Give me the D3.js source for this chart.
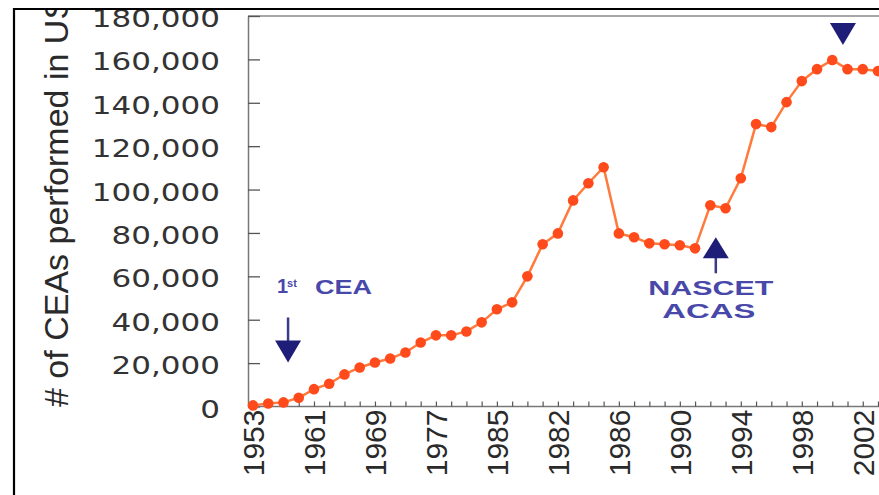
<!DOCTYPE html>
<html>
<head>
<meta charset="utf-8">
<script src="https://cdn.jsdelivr.net/npm/d3@7"></script>
<style>
  body { margin: 0; background: #fff; }
  svg { display: block; }
</style>
</head>
<body>
<div id="chart"></div>
<script>
// CEAs performed per tick position
const ceaCounts = [500, 1400, 1900, 4000, 8000, 10500, 14800, 18000, 20300, 22100,
    24900, 29500, 32800, 32800, 34600, 38800, 44800, 48000, 60000, 74800,
    79800, 95000, 102900, 110300, 79800, 78000, 75200, 74800, 74300, 72900,
    92800, 91400, 105200, 130200, 128800, 140300, 150000, 155500, 159700, 155500,
    155500, 154600];

// labels as printed under every 4th tick
const yearLabels = ["1953", "1961", "1969", "1977", "1985", "1982", "1986", "1990", "1994", "1998", "2002"];
const yTicks = [0, 20000, 40000, 60000, 80000, 100000, 120000, 140000, 160000, 180000];
const yTitle = "# of CEAs performed in US";

const width = 879, height = 495;
const plot = { left: 253, right: 878, top: 16, bottom: 406.5 };

const svg = d3.select("#chart")
    .append("svg")
    .attr("width", width)
    .attr("height", height);

svg.append("clipPath").attr("id", "frameClip")
    .append("rect")
    .attr("x", 13).attr("y", 8)
    .attr("width", width).attr("height", height);

const g = svg.append("g").attr("clip-path", "url(#frameClip)");

const x = d3.scaleLinear()
    .domain([0, ceaCounts.length - 1])
    .range([plot.left, plot.right]);

const y = d3.scaleLinear()
    .domain([0, 180000])
    .range([plot.bottom, plot.top]);

// top border of the plot
g.append("line")
    .attr("x1", 248).attr("x2", width)
    .attr("y1", y(180000)).attr("y2", y(180000))
    .attr("stroke", "#8a8a8a")
    .attr("stroke-width", 1.5);

// Y axis
const yAxis = g.append("g")
    .attr("transform", "translate(248,0)")
    .call(d3.axisLeft(y)
        .tickValues(yTicks)
        .tickSize(-12)
        .tickSizeOuter(0)
        .tickPadding(28)
        .tickFormat(d3.format(",")));

yAxis.select(".domain").attr("stroke", "#777").attr("stroke-width", 1.5);
yAxis.selectAll(".tick line").attr("stroke", "#555").attr("stroke-width", 1.3);
yAxis.selectAll("text")
    .style("font-family", "'DejaVu Sans', sans-serif")
    .style("font-size", "25px")
    .attr("fill", "#333")
    .attr("dy", "0.42em")
    .each(function() {
        const w = this.getComputedTextLength();
        d3.select(this).attr("textLength", w * 1.24).attr("lengthAdjust", "spacingAndGlyphs");
    });

// X axis
const xAxis = g.append("g")
    .attr("transform", `translate(0,${plot.bottom})`)
    .call(d3.axisBottom(x)
        .tickValues(d3.range(ceaCounts.length))
        .tickSize(-5)
        .tickSizeOuter(0)
        .tickFormat(i => i % 4 === 0 ? yearLabels[i / 4] : ""));

xAxis.select(".domain")
    .attr("d", `M248,0H${width}`)
    .attr("stroke", "#777").attr("stroke-width", 1.5);
xAxis.selectAll(".tick line").attr("stroke", "#555").attr("stroke-width", 1.2);
xAxis.selectAll("text")
    .style("font-family", "'Liberation Sans', Arial, sans-serif")
    .style("font-size", "30px")
    .attr("fill", "#2a2a2a")
    .attr("text-anchor", "end")
    .attr("transform", "rotate(-90)")
    .attr("x", -3)
    .attr("y", 0)
    .attr("dy", "0.36em");

// Y title
g.append("text")
    .attr("transform", "translate(68,407) rotate(-90)")
    .attr("text-anchor", "start")
    .style("font-family", "'Liberation Sans', Arial, sans-serif")
    .style("font-size", "34px")
    .attr("fill", "#2a2a2a")
    .text(yTitle);

// line + dots
const line = d3.line()
    .x((d, i) => x(i))
    .y(d => y(d));

g.append("path")
    .datum(ceaCounts)
    .attr("fill", "none")
    .attr("stroke", "#ff7a3c")
    .attr("stroke-width", 2.5)
    .attr("d", line);

g.selectAll(".dot")
    .data(ceaCounts)
    .enter().append("circle")
    .attr("class", "dot")
    .attr("cx", (d, i) => x(i))
    .attr("cy", d => y(d))
    .attr("r", 5.3)
    .attr("fill", "#ff4a1c");

// annotations
const arrowColor = "#1e1e78";
const noteColor = "#4848aa";
const noteFont = "'Liberation Sans', Arial, sans-serif";

function downArrow(cx, tipY, shaft) {
    if (shaft) {
        g.append("line")
            .attr("x1", cx).attr("x2", cx)
            .attr("y1", tipY - 45).attr("y2", tipY - 20)
            .attr("stroke", "#3a3a8a").attr("stroke-width", 2.5);
    }
    g.append("path")
        .attr("d", `M${cx - 13},${tipY - 22}L${cx + 13},${tipY - 22}L${cx},${tipY}Z`)
        .attr("fill", arrowColor);
}

function upArrow(cx, tipY) {
    g.append("line")
        .attr("x1", cx).attr("x2", cx)
        .attr("y1", tipY + 20).attr("y2", tipY + 36)
        .attr("stroke", "#3a3a8a").attr("stroke-width", 2.5);
    g.append("path")
        .attr("d", `M${cx - 13},${tipY + 21}L${cx + 13},${tipY + 21}L${cx},${tipY}Z`)
        .attr("fill", arrowColor);
}

// 1st CEA
const ceaX = x(2.3), ceaTip = y(20300);
downArrow(ceaX, ceaTip, true);
g.append("text")
    .attr("x", ceaX - 11).attr("y", ceaTip - 69)
    .style("font-family", noteFont).style("font-size", "20px").style("font-weight", "bold")
    .attr("fill", noteColor)
    .text("1");
g.append("text")
    .attr("x", ceaX - 1).attr("y", ceaTip - 75)
    .style("font-family", noteFont).style("font-size", "11px").style("font-weight", "bold")
    .attr("fill", noteColor)
    .text("st");
g.append("text")
    .attr("x", ceaX + 27).attr("y", ceaTip - 68)
    .attr("textLength", 57).attr("lengthAdjust", "spacingAndGlyphs")
    .style("font-family", noteFont).style("font-size", "20px").style("font-weight", "bold")
    .attr("fill", noteColor)
    .text("CEA");

// NASCET / ACAS
const nasX = x(30.36), nasTip = y(78000);
upArrow(nasX, nasTip);
g.append("text")
    .attr("x", nasX - 5).attr("y", nasTip + 58)
    .attr("text-anchor", "middle")
    .attr("textLength", 125).attr("lengthAdjust", "spacingAndGlyphs")
    .style("font-family", noteFont).style("font-size", "21px").style("font-weight", "bold")
    .attr("fill", noteColor)
    .text("NASCET");
g.append("text")
    .attr("x", nasX - 7).attr("y", nasTip + 81)
    .attr("text-anchor", "middle")
    .attr("textLength", 93).attr("lengthAdjust", "spacingAndGlyphs")
    .style("font-family", noteFont).style("font-size", "21px").style("font-weight", "bold")
    .attr("fill", noteColor)
    .text("ACAS");

// marker above the peak
downArrow(x(38.7), y(166600), false);

// outer frame
svg.append("path")
    .attr("d", `M14,${height}V9H${width}`)
    .attr("fill", "none")
    .attr("stroke", "#000")
    .attr("stroke-width", 2.2);
</script>
</body>
</html>
